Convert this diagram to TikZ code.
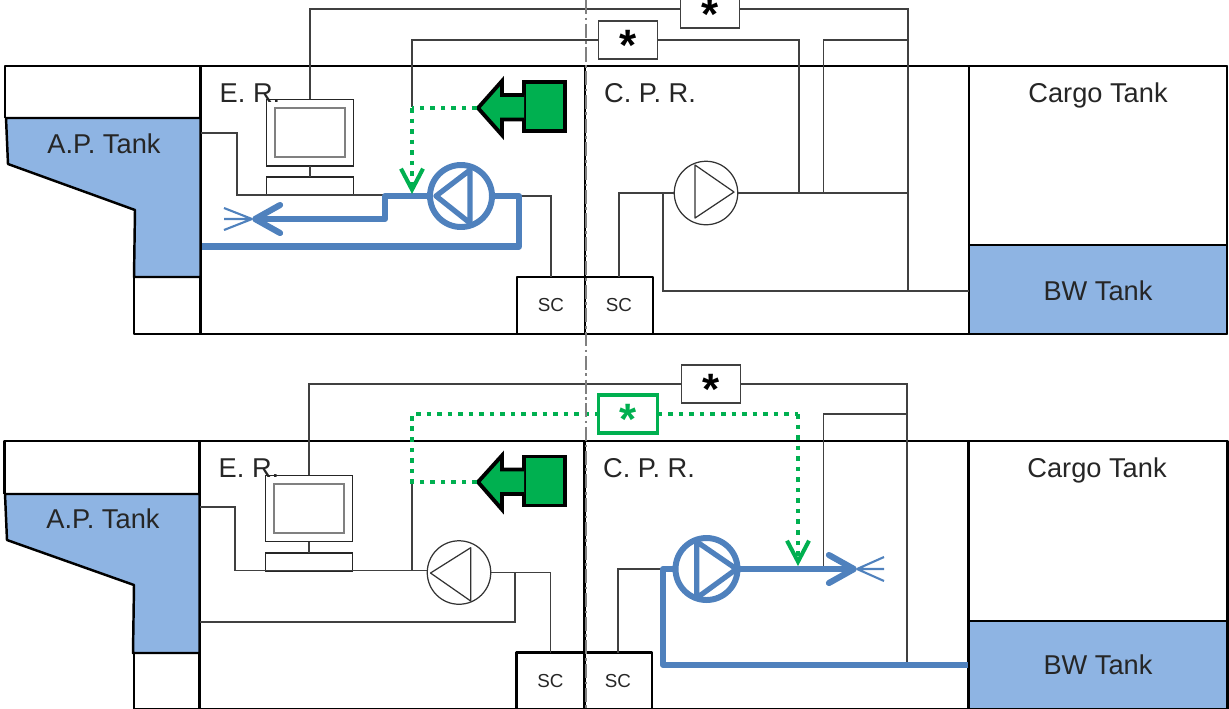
\documentclass[tikz,border=0pt]{standalone}
\usepackage{fontspec}
\setmainfont{Liberation Sans}
\usetikzlibrary{arrows.meta}

\definecolor{tankblue}{HTML}{8EB4E3}
\definecolor{pipeblue}{HTML}{4F81BD}
\definecolor{ctrlgreen}{HTML}{00B050}
\newcommand{\boxstar}{\smash{\raisebox{-11.7pt}{*}}}

\tikzset{
    hull/.style={draw=black, line width=1.4pt, line join=round},
    hullbox/.style={hull, rectangle, inner sep=0pt, outer sep=0pt},
    tankwater/.style={fill=tankblue},
    roomlabel/.style={font=\fontsize{15.5}{18}\selectfont, text=black!85, text height=11.2pt, text depth=0pt},
    sclabel/.style={hullbox, minimum width=1.36cm, minimum height=1.14cm, font=\fontsize{10.7}{12}\selectfont, text=black!85},
    wire/.style={draw=black!75, line width=0.7pt},
    starbox/.style={draw=black!75, line width=0.7pt, fill=white, rectangle, inner sep=0pt, outer sep=0pt,
        minimum width=1.19cm, minimum height=0.76cm, font=\fontsize{25}{25}\selectfont\bfseries},
    staron/.style={starbox, draw=ctrlgreen, line width=1.9pt, text=ctrlgreen},
    monitor/.style={draw=black!85, line width=0.7pt, rectangle, inner sep=0pt, outer sep=0pt, minimum width=1.74cm},
    screen/.style={draw=black!50, line width=1.2pt, rectangle, inner sep=0pt, outer sep=0pt,
        minimum width=1.4cm, minimum height=0.98cm},
    pumpoff/.style={draw=black!80, line width=0.7pt, circle, inner sep=0pt, outer sep=0pt, minimum size=1.27cm},
    pumpon/.style={draw=pipeblue, line width=3.4pt, circle, inner sep=0pt, outer sep=0pt, minimum size=1.24cm},
    bladeoff/.style={draw=black!80, line width=0.7pt, line join=round},
    bladeon/.style={draw=pipeblue, line width=3pt, line join=round},
    flow/.style={draw=pipeblue, line width=3.5pt, line join=round},
    flowtip/.style={flow, -{Straight Barb[round, length=0.5cm, width=0.56cm]}},
    spray/.style={draw=pipeblue, line width=1.2pt},
    signal/.style={draw=ctrlgreen, line width=2.7pt, dash pattern=on 2.6pt off 3.4pt},
    signaltip/.style={signal, -{Straight Barb[length=0.42cm, width=0.44cm, line width=2.3pt, sep=0pt]}},
    actuator/.style={hull, line width=2.2pt, fill=ctrlgreen, line join=miter},
    actbody/.style={actuator, rectangle, inner sep=0pt, outer sep=0pt, minimum width=0.82cm},
    centerline/.style={draw=black!50, line width=0.7pt, dash pattern=on 8pt off 2pt on 1.5pt off 2pt},
}

\begin{document}
\begin{tikzpicture}[x=0.02cm, y=-0.02cm]

    \useasboundingbox (0,0) rectangle (1229,708);

    % Upper hull
    \draw[hull] (5,118) -- (5,66) -- (1227,66) -- (1227,334) -- (134,334) -- (134,277);
    \draw[hull] (200.5,66) -- (200.5,334);
    \draw[hull] (585,66) -- (585,334);
    \draw[hull, tankwater] (6,118) -- (8,164) -- (135,210) -- (134,277) -- (200.5,277) -- (200.5,118) -- cycle;
    \node[hullbox, minimum width=5.16cm, minimum height=3.58cm] (cargoA) at (1098,155.5) {};
    \node[hullbox, tankwater, roomlabel, text height=13pt, minimum width=5.16cm, minimum height=1.78cm] (ballastA) at (1098,289.5) {BW Tank};
    \node[sclabel] (scA) at (551,305.5) {SC};
    \node[sclabel] (scB) at (619,305.5) {SC};

    % Upper labels
    \node[roomlabel] (aptA) at (104,144) {A.P. Tank};
    \node[roomlabel] (erA) at (250,92.5) {E. R.};
    \node[roomlabel] (cprA) at (650,92.5) {C. P. R.};
    \node[roomlabel] (cargotextA) at (1098,92.5) {Cargo Tank};

    % Upper console
    \node[monitor, minimum height=1.33cm] (monitorA) at (310,132.7) {};
    \node[screen] (screenA) at (310,132.7) {};
    \node[monitor, minimum height=0.36cm] (baseA) at (310,186) {};
    \draw[wire] (monitorA.south) -- (baseA.north);

    % Upper pumps
    \node[pumpon] (pumpA) at (461,196) {};
    \draw[bladeon] (470,170) -- (436,196) -- (470,223) -- cycle;
    \node[pumpoff] (pumpB) at (706,193) {};
    \draw[bladeoff] (695,165) -- (734,192) -- (695,218) -- cycle;

    % Upper valves
    \node[starbox] (starA) at (710,9) {\boxstar};
    \node[starbox] (starB) at (628,40) {\boxstar};

    % Upper wires
    \coordinate (dropA) at (412,107);
    \coordinate (teeA) at (799,193);
    \coordinate (teeB) at (823.5,193);
    \coordinate (teeC) at (908,193);
    \coordinate (teeD) at (908,291);
    \coordinate (branchA) at (823.5,40);
    \coordinate (branchB) at (908,40);
    \coordinate (bwfeedA) at (969,291);
    \coordinate (aftfeedA) at (201,133);
    \coordinate (kneeA) at (237,195);
    \coordinate (elbowA) at (385,195);
    \draw[wire] (monitorA.north) |- (starA.west);
    \draw[wire] (starA.east) -| (teeD);
    \draw[wire] (teeD) -- (bwfeedA);
    \draw[wire] (dropA) |- (starB.west);
    \draw[wire] (starB.east) -| (teeA);
    \draw[wire] (branchB) -- (branchA) -- (teeB);
    \draw[wire] (pumpB.east) -- (teeC);
    \draw[wire] (pumpB.west) -| (scB.north);
    \draw[wire] (663,193) |- (teeD);
    \draw[wire] (aftfeedA) -| (kneeA) -- (elbowA);
    \draw[wire] (pumpA.east) -| (scA.north);

    % Upper flow
    \coordinate (nozzleA) at (252,219);
    \coordinate (suctionA) at (202,246.5);
    \draw[flow] (suctionA) -| (519,196) -- (pumpA.east);
    \draw[flowtip] (pumpA.west) -- (385,196) |- (nozzleA);
    \draw[spray] (nozzleA) -- (224,208) (nozzleA) -- (224,219) (nozzleA) -- (224,230);

    % Upper actuator
    \node[actbody, minimum height=0.98cm] (actA) at (544.5,106.5) {};
    \draw[actuator] (actA.west |- 0,95) -- (502,95) -- (502,81) -- (478,108) -- (502,135) -- (502,119.5) -- (actA.west |- 0,119.5);
    \coordinate (valveA) at (477,108);
    \coordinate (signalA) at (412,108);
    \coordinate (signalB) at (412,194);
    \draw[signal] (valveA) -- (signalA);
    \draw[signaltip] (signalA) -- (signalB);

    % Lower hull
    \draw[hull] (4.5,494) -- (4.5,441) -- (1227,441) -- (1227,709) -- (134,709) -- (134,653);
    \draw[hull] (199.5,441) -- (199.5,709);
    \draw[hull] (584.5,441) -- (584.5,709);
    \draw[hull, tankwater] (5,494) -- (7,540) -- (134,585) -- (133,653) -- (199.5,653) -- (199.5,494) -- cycle;
    \node[hullbox, minimum width=5.18cm, minimum height=3.61cm] (cargoB) at (1098,531.2) {};
    \node[hullbox, tankwater, roomlabel, minimum width=5.18cm, minimum height=1.76cm] (ballastB) at (1098,665) {BW Tank};
    \node[sclabel] (scC) at (550.5,681) {SC};
    \node[sclabel] (scD) at (618,681) {SC};

    % Lower labels
    \node[roomlabel] (aptB) at (103,519) {A.P. Tank};
    \node[roomlabel] (erB) at (249,467.5) {E. R.};
    \node[roomlabel] (cprB) at (649,467.5) {C. P. R.};
    \node[roomlabel] (cargotextB) at (1097,467.5) {Cargo Tank};

    % Lower console
    \node[monitor, minimum height=1.33cm] (monitorB) at (309,508.5) {};
    \node[screen] (screenB) at (309,508.5) {};
    \node[monitor, minimum height=0.36cm] (baseB) at (309,562) {};
    \draw[wire] (monitorB.south) -- (baseB.north);

    % Lower pumps
    \node[pumpoff] (pumpC) at (459,572.5) {};
    \draw[bladeoff] (470.7,547.7) -- (430.5,573) -- (470.7,601) -- cycle;
    \node[pumpon] (pumpD) at (706.5,569) {};
    \draw[bladeon] (696.7,541.7) -- (736.5,569) -- (696.7,598) -- cycle;

    % Lower valves
    \node[starbox] (starC) at (711,384) {\boxstar};
    \node[staron] (starD) at (628,414) {\boxstar};

    % Lower wires
    \coordinate (dropB) at (412,482);
    \coordinate (teeE) at (412,570.5);
    \coordinate (teeF) at (823.5,568);
    \coordinate (branchC) at (823.5,414);
    \coordinate (branchD) at (907,414);
    \coordinate (teeG) at (907,664);
    \coordinate (aftfeedB) at (200,507);
    \coordinate (kneeB) at (235,570.5);
    \coordinate (inletC) at (427,570.5);
    \coordinate (bypassA) at (515,572.5);
    \coordinate (aftfeedC) at (200,622);
    \coordinate (kneeC) at (663,569);
    \draw[wire] (monitorB.north) |- (starC.west);
    \draw[wire] (starC.east) -| (teeG);
    \draw[wire] (branchD) -- (branchC) -- (teeF);
    \draw[wire] (dropB) -- (teeE);
    \draw[wire] (aftfeedB) -| (kneeB) -- (inletC);
    \draw[wire] (pumpC.east) -| (scC.north);
    \draw[wire] (bypassA) |- (aftfeedC);
    \draw[wire] (kneeC) -| (scD.north);

    % Lower flow
    \coordinate (nozzleB) at (857,569);
    \coordinate (suctionB) at (968,665);
    \draw[flow] (suctionB) -| (kneeC) -- (pumpD.west);
    \draw[flowtip] (pumpD.east) -- (nozzleB);
    \draw[spray] (nozzleB) -- (884,557) (nozzleB) -- (884,569) (nozzleB) -- (884,581);

    % Lower actuator
    \node[actbody, minimum height=0.98cm] (actB) at (544.5,481) {};
    \draw[actuator] (actB.west |- 0,469.5) -- (502,469.5) -- (502,455.5) -- (478,482) -- (502,509.5) -- (502,494) -- (actB.west |- 0,494);
    \coordinate (valveB) at (477,482);
    \coordinate (signalC) at (412,482);
    \coordinate (signalD) at (412,414);
    \coordinate (signalE) at (798,414);
    \coordinate (signalF) at (798,566);
    \draw[signal] (valveB) -- (signalC) -- (signalD) -- (starD.west);
    \draw[signal] (starD.east) -- (signalE);
    \draw[signaltip] (signalE) -- (signalF);

    % Centre line
    \draw[centerline] (586,0) -- (586,708);

\end{tikzpicture}
\end{document}
